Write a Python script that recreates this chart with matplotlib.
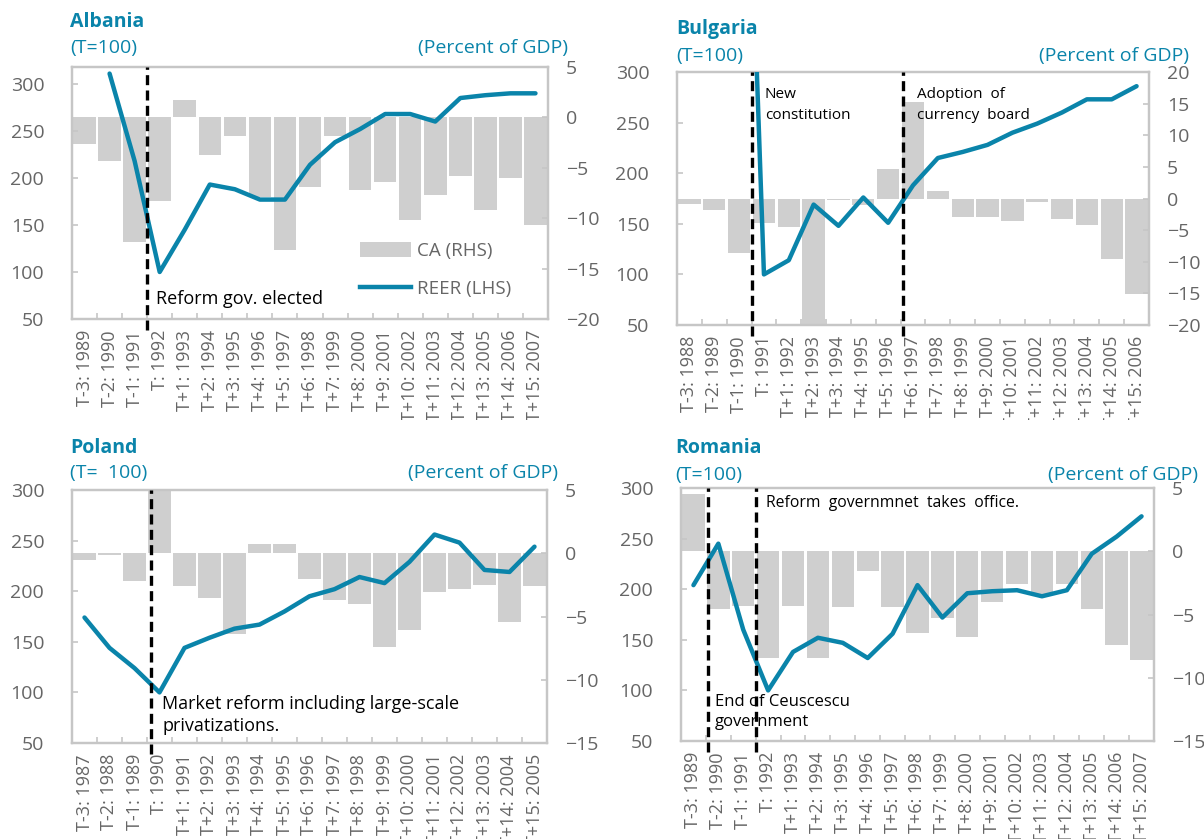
import matplotlib
matplotlib.use("Agg")
import matplotlib.pyplot as plt
from matplotlib.patches import Patch
from matplotlib.lines import Line2D
from matplotlib.transforms import Bbox
import numpy as np

plt.rcParams['font.family'] = ['Open Sans', 'DejaVu Sans']

# ---------------- data ----------------
alb_labels = ["T-3: 1989", "T-2: 1990", "T-1: 1991", "T: 1992", "T+1: 1993", "T+2: 1994",
              "T+3: 1995", "T+4: 1996", "T+5: 1997", "T+6: 1998", "T+7: 1999", "T+8: 2000",
              "T+9: 2001", "T+10: 2002", "T+11: 2003", "T+12: 2004", "T+13: 2005",
              "T+14: 2006", "T+15: 2007"]
alb_ca = [-2.6, -4.3, -12.4, -8.3, 1.7, -3.7, -1.8, -7.9, -13.2, -6.9, -1.8, -7.2,
          -6.4, -10.2, -7.7, -5.8, -9.2, -6.0, -10.7]
alb_reer = [None, 311, 218, 100, 145, 193, 188, 177, 177, 214, 238, 252,
            268, 268, 260, 285, 288, 290, 290]

bul_labels = ["T-3: 1988", "T-2: 1989", "T-1: 1990", "T: 1991", "T+1: 1992", "T+2: 1993",
              "T+3: 1994", "T+4: 1995", "T+5: 1996", "T+6: 1997", "T+7: 1998", "T+8: 1999",
              "T+9: 2000", "T+10: 2001", "T+11: 2002", "T+12: 2003", "T+13: 2004",
              "T+14: 2005", "T+15: 2006"]
bul_ca = [-0.9, -1.8, -8.6, -3.9, -4.5, -20.0, -0.3, -1.0, 4.7, 15.2, 1.2, -3.0,
          -3.0, -3.5, -0.6, -3.3, -4.2, -9.5, -15.1]
bul_reer = [None, None, 800, 100, 114, 169, 148, 176, 151, 188, 215, 221,
            228, 240, 249, 260, 273, 273, 286]

pol_labels = ["T-3: 1987", "T-2: 1988", "T-1: 1989", "T: 1990", "T+1: 1991", "T+2: 1992",
              "T+3: 1993", "T+4: 1994", "T+5: 1995", "T+6: 1996", "T+7: 1997", "T+8: 1998",
              "T+9: 1999", "T+10: 2000", "T+11: 2001", "T+12: 2002", "T+13: 2003",
              "T+14: 2004", "T+15: 2005"]
pol_ca = [-0.5, -0.1, -2.2, 5.0, -2.6, -3.5, -6.4, 0.7, 0.7, -2.0, -3.7, -4.0,
          -7.4, -6.1, -3.1, -2.8, -2.5, -5.4, -2.6]
pol_reer = [174, 144, 124, 100, 144, 154, 163, 167, 180, 195, 202, 214,
            208, 229, 256, 248, 221, 219, 244]

rom_labels = ["T-3: 1989", "T-2: 1990", "T-1: 1991", "T: 1992", "T+1: 1993", "T+2: 1994",
              "T+3: 1995", "T+4: 1996", "T+5: 1997", "T+6: 1998", "T+7: 1999", "T+8: 2000",
              "T+9: 2001", "T+10: 2002", "T+11: 2003", "T+12: 2004", "T+13: 2005",
              "T+14: 2006", "T+15: 2007"]
rom_ca = [4.5, -4.6, -4.3, -8.4, -4.3, -8.4, -4.4, -1.6, -4.4, -6.5, -5.3, -6.8,
          -4.0, -2.6, -3.4, -2.6, -4.6, -7.4, -8.6]
rom_reer = [204, 245, 160, 100, 138, 152, 147, 132, 156, 204, 172, 196,
            198, 199, 193, 199, 235, 252, 272]

TEAL = "#0A84AA"
BAR = "#CFCFCF"
GRAY = "#666666"
SPINE = "#C6C6C6"

W, H = 1204, 839
fig = plt.figure(figsize=(W / 100, H / 100), dpi=100)


def px_axes(l, t, r, b):
    return fig.add_axes([l / W, 1 - b / H, (r - l) / W, (b - t) / H])


def panel(box, labels, ca, reer, lylim, rylim, rticks, vlines, title, tpos, tlab, ppos, clip):
    ax = px_axes(*box)
    ax2 = ax.twinx()
    x = np.arange(len(labels))
    ax2.bar(x, ca, width=0.9, color=BAR, zorder=1)
    yv = np.array([np.nan if v is None else v for v in reer], dtype=float)
    ax.plot(x, yv, color=TEAL, lw=3.2, solid_capstyle='round', zorder=3)
    ax.set_zorder(ax2.get_zorder() + 1)
    ax.patch.set_visible(False)
    ax.set_xlim(-0.5, len(labels) - 0.5)
    ax.set_ylim(*lylim)
    ax.set_yticks([50, 100, 150, 200, 250, 300])
    ax2.set_ylim(*rylim)
    ax2.set_yticks(rticks)
    ax.set_xticks(x)
    ax.set_xticklabels(labels, rotation=90, fontsize=13, color=GRAY)
    ax.set_xticks(np.arange(-0.5, len(labels) - 0.4, 1.0), minor=True)
    ax.tick_params(axis='x', which='major', length=0, pad=8)
    ax.tick_params(axis='x', which='minor', direction='in', length=4, width=1.2, color=SPINE)
    ax.tick_params(axis='y', direction='in', length=4, width=1.2, color=SPINE,
                   labelsize=14, labelcolor=GRAY, pad=20)
    ax2.tick_params(axis='y', direction='in', length=4, width=1.2, color=SPINE,
                    labelsize=14, labelcolor=GRAY, pad=13)
    for a in (ax, ax2):
        for s in a.spines.values():
            s.set_color(SPINE)
            s.set_linewidth(1.6)
    for v in vlines:
        ax.plot([v, v], [-0.045, 1.0], color='black', lw=2.4, ls=(0, (3, 1.6)),
                transform=ax.get_xaxis_transform(), clip_on=False, zorder=5)
    if clip is not None:
        cb = Bbox.from_extents(0, H - clip, W, H)
        for lab in ax.get_xticklabels():
            lab.set_clip_box(cb)
            lab.set_clip_on(True)
    fig.text(tpos[0] / W, 1 - tpos[1] / H, title, color=TEAL, fontsize=14,
             fontweight='bold', va='center', ha='left')
    fig.text(tpos[0] / W, 1 - tpos[2] / H, tlab, color=TEAL, fontsize=14,
             va='center', ha='left')
    fig.text(ppos[0] / W, 1 - ppos[1] / H, "(Percent of GDP)", color=TEAL, fontsize=14,
             va='center', ha='right')
    return ax, ax2


# Albania
ax, ax2 = panel((72, 67, 548, 319), alb_labels, alb_ca, alb_reer, (50, 318), (-20, 5),
                [-20, -15, -10, -5, 0, 5], [2.5], "Albania", (70, 22, 48), "(T=100)", (568, 48), 420)
ax.text(0.176, 0.08, "Reform gov. elected", transform=ax.transAxes, fontsize=13,
        color='black', va='center', ha='left')
handles = [Patch(facecolor=BAR, edgecolor='none'),
           Line2D([0], [0], color=TEAL, lw=3.2)]
ax.legend(handles, ["CA (RHS)", "REER (LHS)"], loc='upper left',
          bbox_to_anchor=(0.59, 0.335), frameon=False, fontsize=13.5,
          labelcolor=GRAY, handlelength=2.7, handleheight=0.8, labelspacing=1.05,
          handletextpad=0.3, borderaxespad=0)

# Bulgaria
ax, ax2 = panel((677, 72, 1149, 325), bul_labels, bul_ca, bul_reer, (50, 300), (-20, 20),
                [-20, -15, -10, -5, 0, 5, 10, 15, 20], [2.5, 8.6], "Bulgaria", (676, 29, 56),
                "(T=100)", (1189, 56), 420)
ax.text(0.186, 0.87, "New\nconstitution", transform=ax.transAxes, fontsize=11,
        color='black', va='center', ha='left', linespacing=1.5)
ax.text(0.508, 0.87, "Adoption  of\ncurrency  board", transform=ax.transAxes, fontsize=11,
        color='black', va='center', ha='left', linespacing=1.5)

# Poland
ax, ax2 = panel((72, 490, 547, 743), pol_labels, pol_ca, pol_reer, (50, 300), (-15, 5),
                [-15, -10, -5, 0, 5], [2.65], "Poland", (70, 448, 473), "(T=  100)", (558, 473), None)
ax.text(0.19, 0.11, "Market reform including large-scale\nprivatizations.", transform=ax.transAxes,
        fontsize=13, color='black', va='center', ha='left', linespacing=1.3)

# Romania
ax, ax2 = panel((681, 488, 1154, 741), rom_labels, rom_ca, rom_reer, (50, 300), (-15, 5),
                [-15, -10, -5, 0, 5], [0.6, 2.5], "Romania", (675, 448, 475), "(T=100)", (1198, 475), None)
ax.text(0.18, 0.94, "Reform  governmnet  takes  office.", transform=ax.transAxes,
        fontsize=11.3, color='black', va='center', ha='left')
ax.text(0.072, 0.115, "End of Ceuscescu\ngovernment", transform=ax.transAxes,
        fontsize=12, color='black', va='center', ha='left', linespacing=1.4, zorder=1)

fig.savefig("out.png", dpi=100)
